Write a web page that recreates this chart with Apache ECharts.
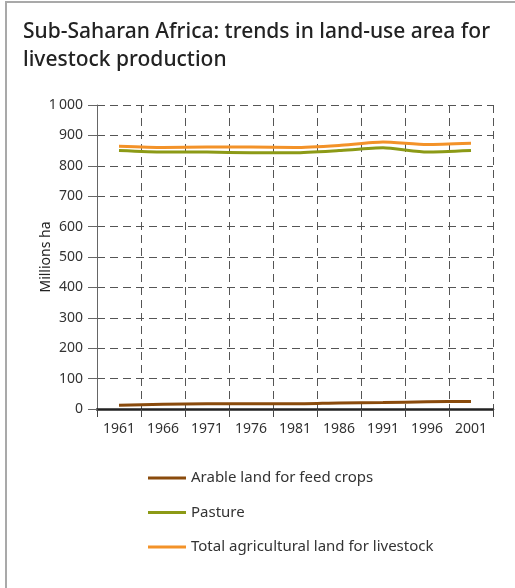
<!DOCTYPE html>
<html>
<head>
<meta charset="utf-8">
<script src="https://cdn.jsdelivr.net/npm/echarts@6/dist/echarts.min.js"></script>
<style>
html,body{margin:0;padding:0;background:#fff;}
#wrap{position:relative;width:515px;height:588px;overflow:hidden;}
#frame{position:absolute;left:5px;top:1px;width:520px;height:600px;border-top:2px solid #a9a9a9;border-left:2px solid #a9a9a9;pointer-events:none;}
#chart{position:absolute;left:0;top:0;width:515px;height:588px;}
</style>
</head>
<body>
<div id="wrap"><div id="chart"></div><div id="frame"></div></div>
<script>
const years = ['1961','1966','1971','1976','1981','1986','1991','1996','2001'];
const arable = [12, 16, 17, 17, 17, 20, 21, 24, 25];
const pasture = [850, 845, 845, 843, 843, 850, 859, 845, 850];
const total = [864, 860, 862, 862, 860, 867, 878, 870, 874];
const yTicks = [0, 100, 200, 300, 400, 500, 600, 700, 800, 900, 1000];
const seriesNames = ['Arable land for feed crops', 'Pasture', 'Total agricultural land for livestock'];
const colors = ['#8a4b0c', '#8c9a16', '#f39228'];

const FONT = 'Noto Sans';
const chart = echarts.init(document.getElementById('chart'), null, {renderer: 'canvas'});
const dash = {type: [8, 5], color: '#555', width: 1};
const mk = (name, data, color) => ({
  name, type: 'line', data, symbol: 'none', smooth: 0.2,
  lineStyle: {color, width: 3},
  itemStyle: {color},
  z: 3
});
chart.setOption({
  animation: false,
  textStyle: {fontFamily: FONT},
  color: colors,
  title: {
    text: 'Sub-Saharan Africa: trends in land-use area for\nlivestock production',
    left: 23, top: 18, padding: 0,
    textStyle: {fontFamily: FONT, fontSize: 21, fontWeight: 500, color: '#222', lineHeight: 28}
  },
  grid: {left: 97, right: 22, top: 105, bottom: 179, containLabel: false},
  xAxis: {
    type: 'category', data: years, boundaryGap: true,
    axisLine: {show: true, lineStyle: {color: '#222', width: 2.5}},
    axisTick: {show: true, length: 8, lineStyle: {color: '#444', width: 1}},
    axisLabel: {fontFamily: FONT, fontSize: 14, color: '#333', margin: 13},
    splitLine: {show: true, lineStyle: dash}
  },
  yAxis: {
    type: 'value', min: yTicks[0], max: yTicks[yTicks.length - 1], interval: 100,
    name: 'Millions ha', nameLocation: 'middle', nameGap: 44, nameRotate: 90, nameMoveOverlap: false,
    nameTextStyle: {fontFamily: FONT, fontSize: 14, color: '#222'},
    axisLine: {show: true, lineStyle: {color: '#666', width: 1}},
    axisTick: {show: true, length: 9, lineStyle: {color: '#666', width: 1}},
    axisLabel: {fontFamily: FONT, fontSize: 14, color: '#333', margin: 14,
      formatter: v => v >= 1000 ? String(v).replace(/\B(?=(\d{3})+(?!\d))/g, '\u2009') : String(v)},
    splitLine: {show: true, lineStyle: dash}
  },
  legend: {
    orient: 'vertical', left: 148, top: 470, padding: 0,
    data: seriesNames, icon: 'rect', itemWidth: 38, itemHeight: 3, itemGap: 18.5,
    textStyle: {fontFamily: FONT, fontSize: 15, color: '#333', lineHeight: 16}
  },
  series: [
    mk(seriesNames[0], arable, colors[0]),
    mk(seriesNames[1], pasture, colors[1]),
    mk(seriesNames[2], total, colors[2])
  ]
});
</script>
</body>
</html>
